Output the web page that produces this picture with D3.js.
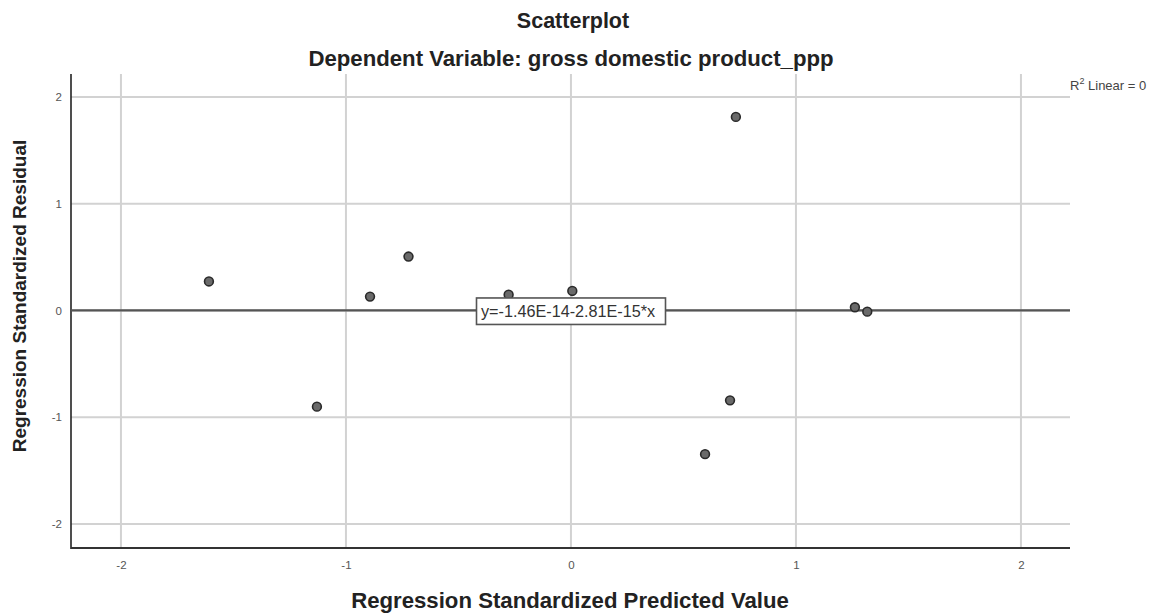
<!DOCTYPE html>
<html>
<head>
<meta charset="utf-8">
<script src="https://cdn.jsdelivr.net/npm/d3@7"></script>
<style>
  body { margin: 0; background: #fff; }
  svg { display: block; font-family: "Liberation Sans", Arial, sans-serif; }
</style>
</head>
<body>
<svg id="chart" width="1174" height="615"></svg>
<script>
// Data
const predicted = [-1.609, -1.129, -0.893, -0.722, -0.277, 0.006, 0.733, 0.707, 0.596, 1.262, 1.317];
const residual  = [ 0.272, -0.901,  0.130,  0.505,  0.148, 0.183, 1.813, -0.842, -1.346, 0.030, -0.011];
const xTicks = [-2, -1, 0, 1, 2];
const yTicks = [-2, -1, 0, 1, 2];
const fitIntercept = -1.46e-14;
const fitSlope = -2.81e-15;
const fitLabel = "y=-1.46E-14-2.81E-15*x";
const titleText = "Scatterplot";
const subtitleText = "Dependent Variable: gross domestic product_ppp";
const xLabel = "Regression Standardized Predicted Value";
const yLabel = "Regression Standardized Residual";

const svg = d3.select("#chart");
const pLeft = 71, pRight = 1070, pTop = 74, pBottom = 548;

const x = d3.scaleLinear().domain([-2.222, 2.218]).range([pLeft, pRight]);
const y = d3.scaleLinear().domain([-2.225, 2.215]).range([pBottom, pTop]);

// Gridlines
const grid = svg.append("g");
grid.selectAll(".vg").data(xTicks).enter().append("line")
  .attr("x1", d => x(d)).attr("x2", d => x(d))
  .attr("y1", pTop).attr("y2", pBottom)
  .attr("stroke", "#d2d2d2").attr("stroke-width", 2);
grid.selectAll(".hg").data(yTicks).enter().append("line")
  .attr("x1", pLeft).attr("x2", pRight)
  .attr("y1", d => y(d)).attr("y2", d => y(d))
  .attr("stroke", "#d2d2d2").attr("stroke-width", 2);

// Axes
const fmt = d => String(d);
const xAxis = d3.axisBottom(x).tickValues(xTicks).tickSize(0).tickPadding(13).tickFormat(fmt);
const yAxis = d3.axisLeft(y).tickValues(yTicks).tickSize(0).tickPadding(9).tickFormat(fmt);
const gx = svg.append("g").attr("transform", `translate(0,${pBottom})`).call(xAxis);
const gy = svg.append("g").attr("transform", `translate(${pLeft},0)`).call(yAxis);
[gx, gy].forEach(g => {
  g.select(".domain").remove();
  g.selectAll("text").attr("fill", "#555").style("font-size", "11.5px")
    .style("font-family", "'Liberation Sans', Arial, sans-serif");
});
svg.append("line").attr("x1", pLeft).attr("x2", pLeft).attr("y1", pTop).attr("y2", pBottom + 1)
  .attr("stroke", "#222").attr("stroke-width", 1.6);
svg.append("line").attr("x1", pLeft).attr("x2", pRight).attr("y1", pBottom).attr("y2", pBottom)
  .attr("stroke", "#333").attr("stroke-width", 2);

// Fit line
const [d0, d1] = x.domain();
svg.append("line")
  .attr("x1", x(d0)).attr("x2", x(d1))
  .attr("y1", y(fitIntercept + fitSlope * d0)).attr("y2", y(fitIntercept + fitSlope * d1))
  .attr("stroke", "#555").attr("stroke-width", 2.2);

// Points
svg.append("g").selectAll("circle").data(predicted.map((p, i) => [p, residual[i]]))
  .enter().append("circle")
  .attr("cx", d => x(d[0])).attr("cy", d => y(d[1])).attr("r", 4.4)
  .attr("fill", "#6a6a6a").attr("stroke", "#2a2a2a").attr("stroke-width", 1.6);

// Fit label box
const lblX = 476.5, lblY = y(0) - 12.5;
const lblG = svg.append("g");
lblG.append("rect").attr("x", lblX).attr("y", lblY).attr("width", 189).attr("height", 26.5)
  .attr("fill", "#fff").attr("stroke", "#555").attr("stroke-width", 1.6);
lblG.append("text").attr("x", lblX + 4.5).attr("y", lblY + 19.5)
  .attr("fill", "#333").style("font-size", "16.2px").text(fitLabel);

// R² label
const r2 = svg.append("text").attr("x", 1070).attr("y", 90).attr("fill", "#444").style("font-size", "13px");
r2.append("tspan").text("R");
r2.append("tspan").attr("dy", -6).style("font-size", "9px").text("2");
r2.append("tspan").attr("dy", 6).text(" Linear = 0");

// Titles
svg.append("text").attr("x", 573).attr("y", 28).attr("text-anchor", "middle")
  .attr("fill", "#222").style("font-size", "21.5px").style("font-weight", "bold").text(titleText);
svg.append("text").attr("x", 571).attr("y", 66).attr("text-anchor", "middle")
  .attr("fill", "#222").style("font-size", "22.2px").style("font-weight", "bold").text(subtitleText);
svg.append("text").attr("x", 570).attr("y", 608).attr("text-anchor", "middle")
  .attr("fill", "#222").style("font-size", "22.2px").style("font-weight", "bold").text(xLabel);
svg.append("text").attr("transform", `translate(26,296) rotate(-90)`).attr("text-anchor", "middle")
  .attr("fill", "#222").style("font-size", "19px").style("font-weight", "bold").text(yLabel);
</script>
</body>
</html>
